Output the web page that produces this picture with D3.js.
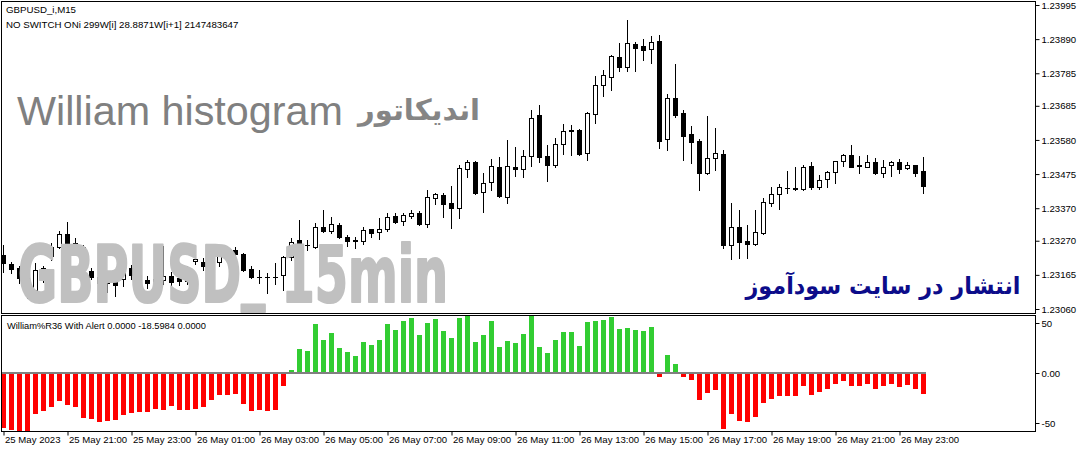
<!DOCTYPE html>
<html><head><meta charset="utf-8">
<script src="https://cdn.jsdelivr.net/npm/d3@7"></script>
<style>body{margin:0;background:#fff} svg{display:block}</style>
</head><body>
<svg id="c" width="1083" height="451"></svg>
<script>
const opens=[1.23226,1.23198,1.23186,1.23155,1.23118,1.23164,1.23223,1.23250,1.23290,1.23263,
1.23250,1.23176,1.23158,1.23139,1.23149,1.23152,1.23186,1.23164,1.23149,1.23139,
1.23149,1.23161,1.23155,1.23146,1.23207,1.23204,1.23192,1.23204,1.23247,1.23241,
1.23229,1.23183,1.23158,1.23158,1.23158,1.23164,1.23219,1.23272,1.23256,1.23250,
1.23312,1.23299,1.23318,1.23281,1.23272,1.23269,1.23306,1.23296,1.23306,1.23346,
1.23330,1.23346,1.23355,1.23321,1.23401,1.23410,1.23386,1.23370,1.23490,1.23512,
1.23419,1.23450,1.23496,1.23404,1.23496,1.23490,1.23530,1.23656,1.23530,1.23502,
1.23567,1.23610,1.23610,1.23539,1.23659,1.23749,1.23773,1.23835,1.23804,1.23875,
1.23868,1.23859,1.23884,1.23582,1.23709,1.23662,1.23598,1.23576,1.23478,1.23524,
1.23536,1.23256,1.23312,1.23269,1.23259,1.23293,1.23386,1.23413,1.23432,1.23432,
1.23429,1.23499,1.23435,1.23459,1.23481,1.23515,1.23533,1.23502,1.23496,1.23512,
1.23478,1.23502,1.23512,1.23493,1.23502,1.23484];
const highs=[1.23256,1.23204,1.23192,1.23164,1.23201,1.23192,1.23263,1.23299,1.23327,1.23278,
1.23256,1.23186,1.23167,1.23152,1.23155,1.23192,1.23195,1.23195,1.23161,1.23167,
1.23253,1.23173,1.23179,1.23192,1.23226,1.23216,1.23223,1.23250,1.23253,1.23250,
1.23232,1.23192,1.23179,1.23170,1.23201,1.23223,1.23278,1.23333,1.23272,1.23324,
1.23364,1.23343,1.23324,1.23287,1.23281,1.23312,1.23306,1.23339,1.23355,1.23355,
1.23355,1.23364,1.23361,1.23426,1.23416,1.23416,1.23438,1.23502,1.23518,1.23515,
1.23478,1.23521,1.23527,1.23579,1.23558,1.23549,1.23672,1.23687,1.23564,1.23586,
1.23629,1.23626,1.23613,1.23665,1.23776,1.23795,1.23841,1.23878,1.23948,1.23881,
1.23890,1.23899,1.23902,1.23721,1.23813,1.23672,1.23622,1.23582,1.23653,1.23616,
1.23549,1.23386,1.23364,1.23318,1.23364,1.23401,1.23435,1.23444,1.23484,1.23496,
1.23502,1.23512,1.23472,1.23484,1.23515,1.23536,1.23564,1.23530,1.23533,1.23524,
1.23518,1.23515,1.23521,1.23512,1.23502,1.23527];
const lows=[1.23173,1.23170,1.23139,1.23093,1.23081,1.23143,1.23210,1.23247,1.23250,1.23241,
1.23179,1.23152,1.23130,1.23112,1.23099,1.23130,1.23152,1.23136,1.23124,1.23127,
1.23136,1.23130,1.23133,1.23136,1.23198,1.23179,1.23179,1.23192,1.23223,1.23219,
1.23176,1.23155,1.23139,1.23109,1.23136,1.23118,1.23210,1.23247,1.23241,1.23247,
1.23296,1.23293,1.23278,1.23253,1.23247,1.23259,1.23281,1.23275,1.23299,1.23324,
1.23318,1.23339,1.23318,1.23312,1.23383,1.23343,1.23309,1.23339,1.23466,1.23413,
1.23358,1.23426,1.23404,1.23386,1.23469,1.23466,1.23499,1.23512,1.23453,1.23496,
1.23536,1.23533,1.23533,1.23518,1.23632,1.23715,1.23733,1.23792,1.23792,1.23792,
1.23825,1.23816,1.23555,1.23549,1.23650,1.23518,1.23509,1.23426,1.23475,1.23487,
1.23247,1.23213,1.23216,1.23216,1.23256,1.23290,1.23376,1.23367,1.23416,1.23426,
1.23426,1.23429,1.23429,1.23435,1.23447,1.23499,1.23496,1.23478,1.23496,1.23475,
1.23466,1.23469,1.23478,1.23490,1.23469,1.23416];
const closes=[1.23201,1.23183,1.23155,1.23112,1.23179,1.23186,1.23250,1.23290,1.23256,1.23250,
1.23186,1.23158,1.23139,1.23146,1.23133,1.23186,1.23164,1.23149,1.23139,1.23152,
1.23161,1.23143,1.23146,1.23186,1.23213,1.23192,1.23210,1.23226,1.23238,1.23229,
1.23179,1.23158,1.23157,1.23158,1.23158,1.23219,1.23266,1.23256,1.23256,1.23312,
1.23299,1.23321,1.23281,1.23269,1.23270,1.23303,1.23293,1.23306,1.23343,1.23327,
1.23349,1.23355,1.23321,1.23404,1.23413,1.23383,1.23370,1.23493,1.23512,1.23416,
1.23447,1.23499,1.23407,1.23499,1.23490,1.23530,1.23647,1.23527,1.23502,1.23567,
1.23607,1.23609,1.23536,1.23662,1.23749,1.23779,1.23838,1.23804,1.23878,1.23862,
1.23856,1.23881,1.23576,1.23709,1.23656,1.23592,1.23573,1.23478,1.23524,1.23539,
1.23256,1.23312,1.23266,1.23259,1.23296,1.23389,1.23413,1.23435,1.23433,1.23430,
1.23496,1.23435,1.23456,1.23481,1.23515,1.23533,1.23496,1.23501,1.23512,1.23478,
1.23496,1.23512,1.23490,1.23502,1.23478,1.23438];
const wprHist=[-55,-57,-60,-60,-41,-38,-34,-28,-32,-34,
-45,-46,-49,-48,-47,-42,-40,-39,-39,-36,
-37,-33,-37,-37,-36,-34,-27,-22,-22,-21,
-31,-38,-37,-38,-37,-13,3,24,22,49,
33,40,25,21,17,31,28,33,49,43,
52,55,38,50,54,42,35,55,57,31,
38,52,26,32,30,39,57,26,20,33,
41,41,27,51,52,53,56,44,45,43,
42,46,-4,18,9,-4,-7,-27,-20,-17,
-56,-41,-48,-49,-44,-30,-26,-23,-23,-23,
-13,-22,-19,-16,-11,-8,-13,-13,-11,-16,
-13,-11,-14,-12,-16,-21];
const timeTickLabels=["25 May 2023","25 May 21:00","25 May 23:00","26 May 01:00","26 May 03:00","26 May 05:00","26 May 07:00","26 May 09:00","26 May 11:00","26 May 13:00","26 May 15:00","26 May 17:00","26 May 19:00","26 May 21:00","26 May 23:00"];
const priceTicks=[1.23995,1.23890,1.23785,1.23685,1.23580,1.23475,1.23370,1.23270,1.23165,1.23060];
const wprTicks=[50,0,-50];
const barsPerTick=8;

const svg=d3.select("#c");
const L=1.5,R=1035.5,T1=1.5,B1=313.5,T2=315.5,B2=431.5;
const FONT='"Liberation Sans", Arial, sans-serif';
const n=opens.length;
const x=d3.scaleLinear().domain([0,n-1]).range([3.5,3.5+8*(n-1)]);
const y=d3.scaleLinear().domain([1.23060,1.23995]).range([309,5]);
const yw=d3.scaleLinear().domain([-50,50]).range([423,323]);

svg.append("rect").attr("width",1083).attr("height",451).attr("fill","#fff");
const defs=svg.append("defs");
defs.append("clipPath").attr("id","c1").append("rect").attr("x",L+0.5).attr("y",T1+0.5).attr("width",R-L-1).attr("height",B1-T1-1);
defs.append("clipPath").attr("id","c2").append("rect").attr("x",L+0.5).attr("y",T2+0.5).attr("width",R-L-1).attr("height",B2-T2-1);

// candles
const g1=svg.append("g").attr("clip-path","url(#c1)");
const idx=d3.range(n);
g1.selectAll("line.w").data(idx).join("line").attr("class","w")
  .attr("x1",i=>x(i)).attr("x2",i=>x(i))
  .attr("y1",i=>Math.round(y(highs[i]))).attr("y2",i=>Math.round(y(lows[i]))+1)
  .attr("stroke","#000").attr("stroke-width",1);
idx.forEach(i=>{
  const yt=Math.round(y(Math.max(opens[i],closes[i]))), yb=Math.round(y(Math.min(opens[i],closes[i])));
  if(yb-yt<1){
    g1.append("line").attr("x1",x(i)-2.5).attr("x2",x(i)+2.5).attr("y1",yt+0.5).attr("y2",yt+0.5).attr("stroke","#000");
  } else {
    g1.append("rect").attr("x",x(i)-2).attr("width",4).attr("y",yt+0.5).attr("height",yb-yt)
      .attr("fill",closes[i]>=opens[i]?"#fff":"#000").attr("stroke","#000").attr("stroke-width",1);
  }
});

// texts in main pane
svg.append("text").attr("x",6).attr("y",13).attr("font-family",FONT).attr("font-size",9.7).attr("fill","#000").text("GBPUSD_i,M15");
svg.append("text").attr("x",6).attr("y",28).attr("font-family",FONT).attr("font-size",9.7).attr("fill","#000").text("NO SWITCH ONi 299W[i] 28.8871W[i+1] 2147483647");
svg.append("text").attr("x",17).attr("y",125).attr("font-family",FONT).attr("font-size",41.3).attr("fill","#808080").text("William histogram");
svg.append("text").attr("x",419).attr("y",120).attr("text-anchor","middle").attr("font-family",'"DejaVu Sans", sans-serif').attr("font-weight","bold").attr("font-size",29).attr("fill","#858585").text("اندیکاتور");
svg.append("text").attr("x",18).attr("y",302).attr("dy","0 0 0 0 0 0 -9 9")
  .attr("font-family",'"Liberation Sans Narrow","DejaVu Sans Condensed","Roboto Condensed",sans-serif').attr("font-weight","bold").attr("font-size",78)
  .attr("textLength",430).attr("lengthAdjust","spacingAndGlyphs").attr("fill","#c0c0c0").attr("stroke","#c0c0c0").attr("stroke-width",2.2).attr("stroke-linejoin","round")
  .text("GBPUSD_ 15min");
svg.append("text").attr("x",883).attr("y",294).attr("text-anchor","middle").attr("font-family",'"DejaVu Sans", sans-serif').attr("font-weight","bold").attr("font-size",24)
  .attr("textLength",275).attr("lengthAdjust","spacingAndGlyphs").attr("fill","#0c0c8a").text("انتشار در سایت سودآموز");

// histogram
const g2=svg.append("g").attr("clip-path","url(#c2)");
g2.selectAll("rect.h").data(idx).join("rect").attr("class","h")
  .attr("x",i=>x(i)-2.5).attr("width",5)
  .attr("y",i=>Math.min(yw(0),yw(wprHist[i]))).attr("height",i=>Math.abs(yw(wprHist[i])-yw(0)))
  .attr("fill",i=>wprHist[i]>=0?"#32cd32":"#ff0000");
g2.append("line").attr("x1",L).attr("x2",x(n-1)+2.5).attr("y1",yw(0)).attr("y2",yw(0)).attr("stroke","#808080").attr("stroke-width",2);
svg.append("text").attr("x",7).attr("y",329).attr("font-family",FONT).attr("font-size",9.3).attr("fill","#000").text("William%R36 With Alert 0.0000 -18.5984 0.0000");

// frames
[[T1,B1],[T2,B2]].forEach(([t,b])=>svg.append("rect").attr("x",L).attr("y",t).attr("width",R-L).attr("height",b-t).attr("fill","none").attr("stroke","#000").attr("stroke-width",1));

// axes
const ay=svg.append("g").attr("transform",`translate(${R},0)`)
  .call(d3.axisRight(y).tickValues(priceTicks).tickSize(4).tickPadding(2).tickFormat(d3.format(".5f")));
const aw=svg.append("g").attr("transform",`translate(${R},0)`)
  .call(d3.axisRight(yw).tickValues(wprTicks).tickSize(4).tickPadding(2).tickFormat(d=>d===0?"0.00":String(d)));
const ax=svg.append("g").attr("transform",`translate(0,${B2})`)
  .call(d3.axisBottom(x).tickValues(d3.range(0,n,barsPerTick)).tickSize(4).tickFormat((d,i)=>timeTickLabels[i]));
[ay,aw,ax].forEach(a=>{a.select(".domain").remove();a.selectAll("text").attr("font-family",FONT).attr("font-size",9.6).attr("fill","#000");a.selectAll("line").attr("stroke","#000");});
ax.selectAll("text").attr("text-anchor","start").attr("dx",1).attr("y",5);
</script>
</body></html>
